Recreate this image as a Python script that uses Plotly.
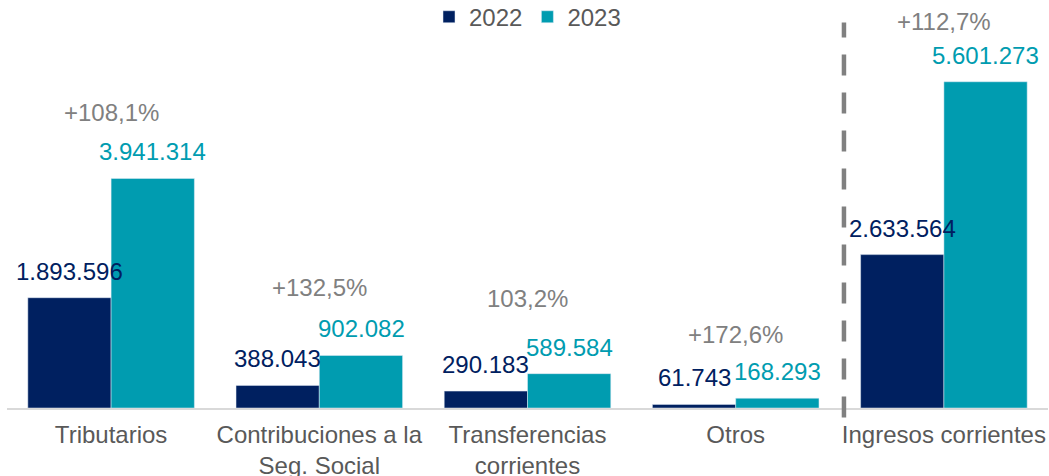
import plotly.graph_objects as go

categories = [
    "Tributarios",
    "Contribuciones a la<br>Seg. Social",
    "Transferencias<br>corrientes",
    "Otros",
    "Ingresos corrientes",
]
values_2022 = [1893596, 388043, 290183, 61743, 2633564]
values_2023 = [3941314, 902082, 589584, 168293, 5601273]
labels_2022 = ["1.893.596", "388.043", "290.183", "61.743", "2.633.564"]
labels_2023 = ["3.941.314", "902.082", "589.584", "168.293", "5.601.273"]
pct_labels = ["+108,1%", "+132,5%", "103,2%", "+172,6%", "+112,7%"]

NAVY = "#002060"
TEAL = "#009CB0"
GRAY = "#808080"
TEXT = "#595959"
FONT = "Liberation Sans, Arial, sans-serif"
FS = 24

# vertical offset of each growth label above the 2023 bar (px)
pct_shift = [66, 68, 75, 64, 60]

fig = go.Figure()
fig.add_trace(go.Bar(name="2022", x=categories, y=values_2022, marker_color=NAVY))
fig.add_trace(go.Bar(name="2023", x=categories, y=values_2023, marker_color=TEAL))

half = 41.7
for cat, v, lab in zip(categories, values_2022, labels_2022):
    fig.add_annotation(x=cat, y=v, text=lab, showarrow=False, xshift=-half, yshift=11,
                       yanchor="bottom", font=dict(color=NAVY, size=FS, family=FONT))
for cat, v, lab in zip(categories, values_2023, labels_2023):
    fig.add_annotation(x=cat, y=v, text=lab, showarrow=False, xshift=half, yshift=11,
                       yanchor="bottom", font=dict(color=TEAL, size=FS, family=FONT))
for cat, v, lab, s in zip(categories, values_2023, pct_labels, pct_shift):
    fig.add_annotation(x=cat, y=v, text=lab, showarrow=False, yshift=s,
                       yanchor="middle", font=dict(color=GRAY, size=FS, family=FONT))

fig.add_shape(type="line", xref="x", yref="paper", x0=3.52, x1=3.52, y0=-0.025, y1=1.02,
              line=dict(color=GRAY, width=4.5, dash="21px,17px"))

fig.update_layout(
    width=1049,
    height=476,
    barmode="group",
    bargap=0.2,
    bargroupgap=0,
    paper_bgcolor="white",
    plot_bgcolor="white",
    font=dict(family=FONT, size=FS, color=TEXT),
    margin=dict(l=7, r=1, t=30, b=68, autoexpand=False),
    showlegend=True,
    legend=dict(orientation="h", x=0.5, xanchor="center", yref="container", y=0.964,
                yanchor="middle", font=dict(size=FS, color=TEXT), itemwidth=30, tracegroupgap=0),
    xaxis=dict(showline=True, linecolor="#D9D9D9", linewidth=1.5, ticks="", automargin=False,
               ticklabelstandoff=4, tickfont=dict(size=FS, color=TEXT), showgrid=False),
    yaxis=dict(visible=False, range=[0, 6.49e6], showgrid=False),
)

fig.write_html("out.html", config={"displayModeBar": False},
               post_script="document.body.style.margin='0';")
